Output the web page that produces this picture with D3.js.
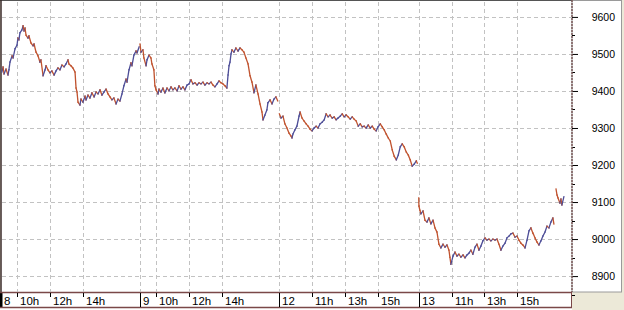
<!DOCTYPE html>
<html>
<head>
<meta charset="utf-8">
<script src="https://cdnjs.cloudflare.com/ajax/libs/d3/7.8.5/d3.min.js"></script>
<style>
  body { margin: 0; background: #ECE9D8; }
  svg { display: block; }
</style>
</head>
<body>
<script>
'use strict';

// session labels and the hour ticks shown under each one
const sessions = ['8', '9', '12', '13'];
const hourTicks = [[10, 12, 14], [10, 12, 14], [11, 13, 15], [11, 13, 15]];
const priceTicks = [8900, 9000, 9100, 9200, 9300, 9400, 9500, 9600];

// [clock hour, price], one array per session
const day8 = [
  [9.08, 9451], [9.15, 9465], [9.21, 9446], [9.33, 9459], [9.45, 9443], [9.51, 9457],
  [9.57, 9478], [9.70, 9495], [9.76, 9489], [9.88, 9514], [10.00, 9524], [10.06, 9543],
  [10.12, 9538], [10.18, 9557], [10.30, 9565], [10.37, 9576], [10.43, 9562], [10.49, 9570],
  [10.55, 9551], [10.67, 9543], [10.73, 9549], [10.85, 9530], [10.98, 9522], [11.04, 9527],
  [11.16, 9505], [11.28, 9495], [11.40, 9478], [11.46, 9484], [11.59, 9441], [11.71, 9457],
  [11.77, 9468], [11.89, 9457], [12.01, 9449], [12.13, 9454], [12.26, 9443], [12.38, 9454],
  [12.50, 9462], [12.62, 9457], [12.74, 9470], [12.87, 9465], [12.99, 9473], [13.11, 9484],
  [13.17, 9473], [13.29, 9468], [13.41, 9462], [13.54, 9451], [13.60, 9408], [13.66, 9397],
  [13.72, 9370], [13.84, 9362], [13.90, 9378], [14.02, 9370], [14.15, 9386], [14.21, 9376],
  [14.33, 9389], [14.45, 9381], [14.57, 9395], [14.70, 9384], [14.82, 9397], [14.94, 9392],
  [15.06, 9403], [15.18, 9389], [15.30, 9397], [15.43, 9405], [15.55, 9392], [15.67, 9384],
  [15.79, 9376], [15.91, 9381], [16.04, 9365], [16.16, 9378], [16.28, 9373], [16.40, 9392],
  [16.52, 9414], [16.65, 9432], [16.71, 9424], [16.83, 9457], [16.95, 9476], [17.01, 9468],
  [17.13, 9497], [17.26, 9508], [17.32, 9503], [17.45, 9519]
];

const day9 = [
  [9.00, 9527], [9.06, 9505], [9.18, 9511], [9.24, 9489], [9.37, 9468], [9.43, 9484],
  [9.55, 9497], [9.67, 9489], [9.73, 9473], [9.85, 9457], [9.91, 9414], [9.98, 9403],
  [10.10, 9392], [10.16, 9405], [10.28, 9397], [10.40, 9408], [10.52, 9395], [10.65, 9408],
  [10.77, 9400], [10.89, 9411], [11.01, 9403], [11.13, 9408], [11.26, 9400], [11.38, 9414],
  [11.50, 9405], [11.62, 9411], [11.74, 9403], [11.87, 9416], [11.99, 9419], [12.11, 9430],
  [12.23, 9419], [12.35, 9422], [12.48, 9416], [12.60, 9422], [12.72, 9419], [12.84, 9424],
  [12.96, 9416], [13.09, 9422], [13.21, 9419], [13.33, 9424], [13.45, 9416], [13.57, 9411],
  [13.70, 9419], [13.82, 9427], [13.94, 9422], [14.06, 9419], [14.18, 9414], [14.30, 9408],
  [14.37, 9443], [14.43, 9468], [14.49, 9478], [14.55, 9500], [14.61, 9511], [14.73, 9505],
  [14.85, 9516], [14.98, 9508], [15.10, 9516], [15.22, 9511], [15.34, 9505], [15.46, 9489],
  [15.59, 9473], [15.71, 9441], [15.83, 9424], [15.95, 9395], [16.07, 9416], [16.20, 9392],
  [16.32, 9365], [16.44, 9343], [16.50, 9322], [16.62, 9335], [16.74, 9349], [16.80, 9368],
  [16.93, 9376], [17.05, 9365], [17.17, 9378], [17.29, 9384], [17.40, 9373]
];

const day12 = [
  [9.00, 9338], [9.10, 9327], [9.22, 9332], [9.34, 9311], [9.46, 9300], [9.59, 9286],
  [9.71, 9278], [9.77, 9273], [9.83, 9284], [9.95, 9295], [10.07, 9305], [10.20, 9332],
  [10.26, 9343], [10.38, 9327], [10.50, 9319], [10.63, 9311], [10.75, 9305], [10.87, 9297],
  [10.99, 9292], [11.12, 9300], [11.24, 9305], [11.36, 9300], [11.48, 9311], [11.61, 9316],
  [11.73, 9322], [11.85, 9338], [11.97, 9330], [12.09, 9335], [12.22, 9327], [12.34, 9330],
  [12.46, 9322], [12.58, 9327], [12.71, 9332], [12.83, 9338], [12.95, 9330], [13.07, 9335],
  [13.19, 9330], [13.32, 9324], [13.44, 9330], [13.56, 9324], [13.68, 9319], [13.81, 9305],
  [13.93, 9311], [14.05, 9303], [14.17, 9305], [14.29, 9300], [14.42, 9308], [14.54, 9300],
  [14.66, 9305], [14.78, 9297], [14.90, 9292], [15.02, 9303], [15.15, 9311], [15.27, 9303],
  [15.39, 9295], [15.51, 9284], [15.64, 9273], [15.76, 9265], [15.88, 9241], [16.00, 9224],
  [16.13, 9214], [16.25, 9227], [16.37, 9249], [16.49, 9257], [16.61, 9249], [16.74, 9235],
  [16.86, 9227], [16.98, 9214], [17.10, 9197], [17.23, 9203], [17.35, 9211], [17.41, 9205]
];

// null price = gap before the late prints
const day13 = [
  [9.00, 9111], [9.01, 9089], [9.07, 9078], [9.13, 9068], [9.26, 9076], [9.38, 9051],
  [9.50, 9046], [9.62, 9057], [9.74, 9041], [9.87, 9051], [9.99, 9030], [10.11, 9019],
  [10.23, 8986], [10.35, 8976], [10.48, 8986], [10.60, 8978], [10.72, 8984], [10.84, 8970],
  [10.90, 8951], [10.96, 8932], [11.09, 8954], [11.21, 8965], [11.33, 8954], [11.45, 8959],
  [11.57, 8951], [11.70, 8957], [11.82, 8949], [11.94, 8957], [12.06, 8962], [12.18, 8970],
  [12.30, 8959], [12.43, 8978], [12.55, 8986], [12.67, 8970], [12.79, 8981], [12.91, 8995],
  [13.04, 9003], [13.16, 8997], [13.28, 9000], [13.40, 8995], [13.52, 9000], [13.65, 8997],
  [13.77, 9000], [13.89, 8986], [14.01, 8970], [14.13, 8981], [14.26, 8989], [14.38, 9003],
  [14.50, 9008], [14.62, 9014], [14.74, 9016], [14.87, 9005], [14.99, 9008], [15.11, 8997],
  [15.23, 8989], [15.35, 8984], [15.48, 8976], [15.60, 8997], [15.72, 9022], [15.84, 9030],
  [15.96, 9016], [16.09, 9003], [16.21, 8992], [16.33, 8984], [16.45, 8995], [16.57, 9008],
  [16.70, 9019], [16.82, 9035], [16.94, 9030], [17.06, 9046], [17.18, 9057], [17.24, 9041],
  [17.30, null],
  [17.37, 9135], [17.43, 9119], [17.49, 9111], [17.61, 9097], [17.67, 9108], [17.73, 9092],
  [17.85, 9114]
];

const sessionData = [day8, day9, day12, day13];

(function() {

  const width = 624;
  const height = 310;
  const plot = { left: 1, right: 572, top: 1, bottom: 292 };
  const sessionOpen = 9;      // each session opens at 9h
  const sessionLength = 8.5;  // hours of trading time per session
  const upColor = '#4d4d97';
  const downColor = '#c0522e';

  let svgContainer = '';
  let xScale = '';
  let yScale = '';

  window.onload = function() {
    svgContainer = d3.select('body')
      .append('svg')
      .attr('width', width)
      .attr('height', height)
      .style('font-family', '"Liberation Sans", Arial, sans-serif');

    makeScales();
    drawPanels();
    drawGrid();
    plotData();
    drawPriceAxis();
    drawTimeAxis();
  }

  // continuous trading time: sessions are glued end to end
  function tradeTime(session, hour) {
    return session * sessionLength + (hour - sessionOpen);
  }

  function makeScales() {
    xScale = d3.scaleLinear()
      .domain([0, 34.82])
      .range([0.6, 571.6]);

    yScale = d3.scaleLinear()
      .domain([8857, 9643])
      .range([plot.bottom, plot.top]);
  }

  // white panels and borders
  function drawPanels() {
    // plot area
    svgContainer.append('rect')
      .attr('x', plot.left).attr('y', plot.top)
      .attr('width', plot.right - plot.left)
      .attr('height', plot.bottom - plot.top)
      .attr('fill', '#fff');

    // price axis panel
    svgContainer.append('rect')
      .attr('x', plot.right).attr('y', 0.5)
      .attr('width', 49.5).attr('height', plot.bottom - 0.5)
      .attr('fill', '#fff')
      .attr('stroke', '#9a9a9a');

    // time axis band
    svgContainer.append('rect')
      .attr('x', 0).attr('y', plot.bottom)
      .attr('width', plot.right).attr('height', 16)
      .attr('fill', '#fff');
    svgContainer.append('rect')
      .attr('x', 0).attr('y', 308)
      .attr('width', plot.right).attr('height', 2)
      .attr('fill', '#fff');

    // top border
    svgContainer.append('line')
      .attr('x1', 0).attr('x2', plot.right)
      .attr('y1', 0.5).attr('y2', 0.5)
      .attr('stroke', '#555');

    // left border
    svgContainer.append('line')
      .attr('x1', 1).attr('x2', 1)
      .attr('y1', 0).attr('y2', plot.bottom)
      .attr('stroke', '#3a2a2a').attr('stroke-width', 1.5);
    svgContainer.append('rect')
      .attr('x', 0).attr('y', plot.bottom)
      .attr('width', 2.5).attr('height', 16)
      .attr('fill', '#000');

    // band top and bottom lines
    [plot.bottom + 0.5, 307.5].forEach(function(y) {
      svgContainer.append('line')
        .attr('x1', 0).attr('x2', plot.right)
        .attr('y1', y).attr('y2', y)
        .attr('stroke', '#7a4848').attr('stroke-width', 1.5);
    });
    svgContainer.append('line')
      .attr('x1', plot.right - 0.5).attr('x2', plot.right - 0.5)
      .attr('y1', plot.bottom).attr('y2', 308)
      .attr('stroke', '#7a4848');
  }

  // dashed grid at price ticks, hour ticks and session starts
  function drawGrid() {
    const grid = svgContainer.append('g')
      .attr('stroke', '#c2c2c2')
      .attr('stroke-dasharray', '4,3');

    grid.selectAll('.hgrid')
      .data(priceTicks)
      .enter()
      .append('line')
        .attr('x1', plot.left + 1).attr('x2', plot.right)
        .attr('y1', function(d) { return Math.round(yScale(d)) + 0.5 })
        .attr('y2', function(d) { return Math.round(yScale(d)) + 0.5 });

    let vx = [];
    sessions.forEach(function(s, i) {
      if (i > 0) vx.push(tradeTime(i, sessionOpen));
      hourTicks[i].forEach(function(h) { vx.push(tradeTime(i, h)) });
    });

    grid.selectAll('.vgrid')
      .data(vx)
      .enter()
      .append('line')
        .attr('x1', function(d) { return Math.round(xScale(d)) + 0.5 })
        .attr('x2', function(d) { return Math.round(xScale(d)) + 0.5 })
        .attr('y1', plot.top + 1).attr('y2', plot.bottom);
  }

  // price line, each step coloured by direction
  function plotData() {
    let segments = [];
    sessionData.forEach(function(points, s) {
      let last = downColor;
      for (let i = 1; i < points.length; i++) {
        let a = points[i - 1];
        let b = points[i];
        if (a[1] === null || b[1] === null) continue;
        if (b[1] > a[1]) last = upColor;
        else if (b[1] < a[1]) last = downColor;
        segments.push({ s: s, a: a, b: b, color: last });
      }
    });

    svgContainer.append('g')
      .selectAll('line')
      .data(segments)
      .enter()
      .append('line')
        .attr('x1', function(d) { return xScale(tradeTime(d.s, d.a[0])) })
        .attr('y1', function(d) { return yScale(d.a[1]) })
        .attr('x2', function(d) { return xScale(tradeTime(d.s, d.b[0])) })
        .attr('y2', function(d) { return yScale(d.b[1]) })
        .attr('stroke', function(d) { return d.color })
        .attr('stroke-width', 1.3)
        .attr('stroke-linecap', 'square');
  }

  // price axis on the right
  function drawPriceAxis() {
    const axis = d3.axisRight(yScale)
      .tickValues(priceTicks)
      .tickSize(6)
      .tickPadding(20)
      .tickFormat(d3.format('d'));

    const g = svgContainer.append('g')
      .attr('transform', 'translate(' + plot.right + ',0)')
      .call(axis);
    g.select('.domain').remove();
    g.selectAll('.tick line').attr('stroke', '#000');
    g.selectAll('.tick text')
      .attr('x', 43)
      .attr('text-anchor', 'end')
      .attr('fill', '#000')
      .style('font-size', '10.5px')
      .style('font-family', '"Liberation Sans", Arial, sans-serif');

    // half-step minor ticks
    svgContainer.append('g')
      .selectAll('line')
      .data(priceTicks.map(function(d) { return d + 50 }).concat([8850]))
      .enter()
      .append('line')
        .attr('x1', plot.right).attr('x2', plot.right + 3)
        .attr('y1', function(d) { return Math.round(yScale(d)) + 0.5 })
        .attr('y2', function(d) { return Math.round(yScale(d)) + 0.5 })
        .attr('stroke', '#000');

    // dotted right edge of the plot
    svgContainer.append('line')
      .attr('x1', plot.right).attr('x2', plot.right)
      .attr('y1', 0).attr('y2', plot.bottom)
      .attr('stroke', '#7b5a5a')
      .attr('stroke-width', 1.5)
      .attr('stroke-dasharray', '2,1');
  }

  // time axis: session starts and hour ticks
  function drawTimeAxis() {
    let ticks = [];
    sessions.forEach(function(s, i) {
      ticks.push({ t: tradeTime(i, sessionOpen), label: s, major: true });
      hourTicks[i].forEach(function(h) {
        ticks.push({ t: tradeTime(i, h), label: h + 'h', major: false });
      });
    });

    const g = svgContainer.append('g');

    g.selectAll('line')
      .data(ticks.filter(function(d, i) { return i > 0 }))
      .enter()
      .append('line')
        .attr('x1', function(d) { return Math.round(xScale(d.t)) + 0.5 })
        .attr('x2', function(d) { return Math.round(xScale(d.t)) + 0.5 })
        .attr('y1', plot.bottom + 1)
        .attr('y2', function(d) { return d.major ? 307 : plot.bottom + 5 })
        .attr('stroke', '#000');

    g.selectAll('text')
      .data(ticks)
      .enter()
      .append('text')
        .attr('x', function(d) { return Math.max(3, Math.round(xScale(d.t)) + 3) })
        .attr('y', 305)
        .attr('fill', '#000')
        .style('font-size', '11.5px')
        .text(function(d) { return d.label });
  }

})();
</script>
</body>
</html>
